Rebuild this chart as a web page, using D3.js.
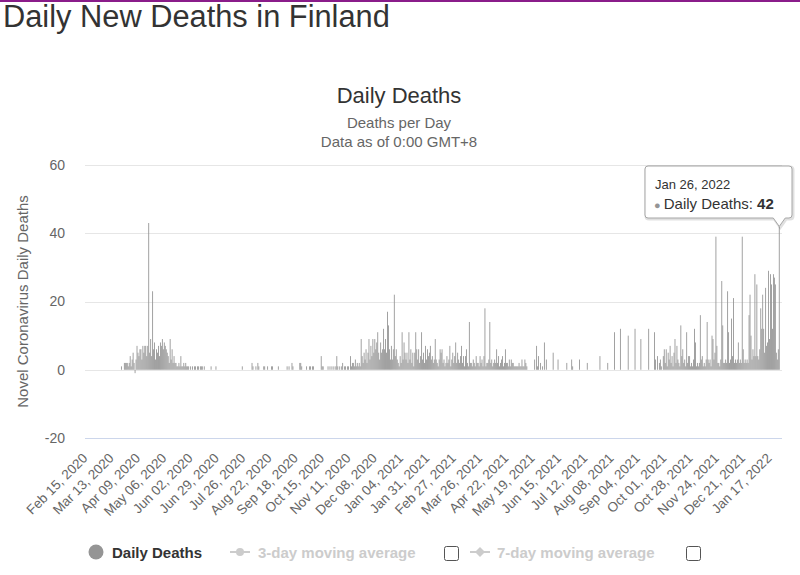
<!DOCTYPE html>
<html>
<head>
<meta charset="utf-8">
<script src="https://cdn.jsdelivr.net/npm/d3@7"></script>
<style>
  html, body { margin: 0; padding: 0; background: #fff; }
  svg { display: block; font-family: Arial, "Liberation Sans", Helvetica, sans-serif; }
</style>
</head>
<body>
<div id="chart"></div>
<script>
// Daily deaths, one value per day from Feb 15, 2020
const deaths2020 = [
  0,0,0,0,0,0,0,0,0,0,
  0,0,0,0,0,0,0,0,0,0,
  0,0,0,0,0,0,0,0,0,0,
  0,0,0,0,0,0,1,0,0,2,
  2,2,2,1,2,4,1,3,5,2,
  -1,3,7,5,4,6,6,3,7,5,
  7,7,4,7,43,5,9,4,23,6,
  8,3,6,5,7,4,8,7,9,6,
  8,7,6,5,4,2,9,3,6,2,
  4,2,2,1,1,2,1,4,1,1,
  2,1,2,1,1,1,0,1,0,1,
  0,1,1,0,1,1,0,1,1,1,
  0,1,0,0,0,0,0,0,1,0,
  0,0,0,1,0,0,0,0,0,0,
  0,0,0,0,0,0,0,0,0,0,
  0,0,0,0,0,0,0,0,0,0,
  1,0,0,0,0,0,0,0,0,0,
  2,1,0,0,1,0,2,1,0,0,
  0,0,1,1,0,0,1,0,0,0,
  1,1,0,0,0,0,0,1,0,0,
  0,0,0,0,0,0,1,0,1,0,
  0,2,1,0,0,0,0,0,0,2,
  2,1,0,0,0,0,1,0,0,1,
  1,0,1,1,0,0,0,0,0,0,
  0,4,1,1,0,0,0,0,1,0,
  1,0,1,0,1,0,1,4,1,0,
  1,0,1,2,0,1,1,0,1,1,
  0,4,1,2,2,1,3,1,2,1,
  2,1,9,4,2,5,3,6,2,5,
  9,3,7,4,9,5,9,6,8,11,
  5,3,8,5,6,12,6,9,5,17,
  13,6,3,7,3,6,22,4,6,3,
  2
];
const deaths2021 = [
  1,4,2,11,3,8,5,3,5,2,
  11,3,6,2,5,1,5,11,6,3,
  6,2,4,11,3,5,2,7,3,6,
  4,5,7,3,4,2,3,9,3,2,
  1,3,6,5,6,2,3,1,2,4,
  2,3,7,1,3,5,2,4,8,2,
  5,3,2,4,7,2,4,1,4,6,
  2,1,14,2,2,1,3,2,1,4,
  2,2,1,4,2,3,1,4,18,1,
  2,2,3,14,2,3,1,2,3,2,
  6,2,4,1,2,3,4,1,2,6,
  2,2,1,3,1,3,2,2,1,1,
  1,1,1,2,1,1,3,1,1,3,
  2,1,0,0,0,0,0,0,0,3,
  0,7,1,4,0,2,0,1,0,8,
  0,3,0,0,0,0,0,0,5,0,
  0,0,0,3,0,0,0,0,0,0,
  0,0,2,0,0,0,0,3,1,0,
  0,0,0,0,0,3,0,0,0,0,
  0,0,0,2,0,0,0,0,0,0,
  0,0,0,0,0,0,4,0,0,0,
  0,0,0,0,2,0,0,0,0,0,
  0,11,0,0,0,0,0,12,0,0,
  0,0,0,0,0,10,0,0,0,0,
  0,0,12,0,0,0,0,0,9,0,
  0,0,0,0,0,0,12,0,0,0,
  0,0,11,3,0,4,0,2,3,1,
  0,4,6,2,6,1,5,3,7,2,
  4,1,5,9,2,7,3,2,1,13,
  4,6,2,3,1,11,2,4,4,1,
  2,1,3,12,8,1,2,1,2,16,
  3,4,1,2,1,3,14,3,2,3,
  1,10,9,3,5,39,7,2,2,1,
  3,26,13,2,2,3,2,23,11,2,
  3,15,4,21,2,3,2,3,8,2,
  3,2,39,6,2,3,2,3,2,16,
  22,10,3,6,4
];
const deaths2022 = [
  28,4,25,4,3,6,18,12,22,12,
  5,24,7,8,29,9,28,25,12,28,
  27,25,5,3,6,42
];
const yTicks = [-20, 0, 20, 40, 60];
const tickEvery = 27;
const legendItems = ["Daily Deaths", "3-day moving average", "7-day moving average"];

const deaths = deaths2020.concat(deaths2021, deaths2022);
const dates = d3.timeDay.range(new Date(2020, 1, 15), new Date(2022, 0, 27));
const data = dates.map((d, i) => ({ date: d, value: deaths[i] }));

const width = 800, height = 575;
const plotLeft = 85, plotRight = 782, plotTop = 165, plotBottom = 438;
const fmt = d3.timeFormat("%b %d, %Y");
const barColor = "#959595";

const svg = d3.select("#chart").append("svg")
  .attr("width", width)
  .attr("height", height);

svg.append("rect").attr("width", width).attr("height", height).attr("fill", "#fff");
svg.append("rect").attr("x", 0).attr("y", 0).attr("width", width).attr("height", 2).attr("fill", "#8a1c8a");

// page title
svg.append("text")
  .attr("x", 3).attr("y", 27)
  .attr("font-size", 30.8).attr("fill", "#333")
  .text("Daily New Deaths in Finland");

// chart titles
svg.append("text").attr("x", 399).attr("y", 103).attr("text-anchor", "middle")
  .attr("font-size", 22).attr("fill", "#333").text("Daily Deaths");
svg.append("text").attr("x", 399).attr("y", 128).attr("text-anchor", "middle")
  .attr("font-size", 15).attr("fill", "#666").text("Deaths per Day");
svg.append("text").attr("x", 399).attr("y", 147).attr("text-anchor", "middle")
  .attr("font-size", 15).attr("fill", "#666").text("Data as of 0:00 GMT+8");

const x = d3.scaleBand()
  .domain(data.map(d => d.date))
  .range([85.8, 779.8])
  .padding(0.1);

const y = d3.scaleLinear()
  .domain([-20, 60])
  .range([plotBottom, plotTop]);

// grid lines
svg.append("g")
  .selectAll("line")
  .data(yTicks)
  .enter()
  .append("line")
  .attr("x1", plotLeft).attr("x2", plotRight)
  .attr("y1", d => Math.round(y(d)) + 0.5).attr("y2", d => Math.round(y(d)) + 0.5)
  .attr("stroke", d => d === -20 ? "#ccd6eb" : "#e6e6e6")
  .attr("stroke-width", 1);

// y labels
svg.append("g")
  .selectAll("text")
  .data(yTicks)
  .enter()
  .append("text")
  .attr("x", 65)
  .attr("y", d => y(d))
  .attr("dy", "0.35em")
  .attr("text-anchor", "end")
  .attr("font-size", 14)
  .attr("fill", "#666")
  .text(d => d);

svg.append("text")
  .attr("transform", `translate(28, ${(plotTop + plotBottom) / 2}) rotate(-90)`)
  .attr("text-anchor", "middle")
  .attr("font-size", 15)
  .attr("fill", "#666")
  .text("Novel Coronavirus Daily Deaths");

// bars
svg.append("g")
  .selectAll("rect")
  .data(data.filter(d => d.value !== 0))
  .enter()
  .append("rect")
  .attr("x", d => x(d.date))
  .attr("width", x.bandwidth())
  .attr("y", d => y(Math.max(0, d.value)))
  .attr("height", d => Math.abs(y(d.value) - y(0)))
  .attr("fill", barColor);

// x labels
svg.append("g")
  .selectAll("text")
  .data(data.filter((d, i) => i % tickEvery === 0))
  .enter()
  .append("text")
  .attr("transform", d => `translate(${x(d.date) + x.bandwidth() / 2 + 2}, 459) rotate(-45)`)
  .attr("text-anchor", "end")
  .attr("font-size", 13.5)
  .attr("fill", "#666")
  .text(d => fmt(d.date));

// legend
const legend = svg.append("g").attr("font-size", 15).attr("font-weight", "bold");
legend.append("circle").attr("cx", 96).attr("cy", 552).attr("r", 7.5).attr("fill", barColor);
legend.append("text").attr("x", 112).attr("y", 558).attr("fill", "#333").text(legendItems[0]);

legend.append("line").attr("x1", 230).attr("x2", 250).attr("y1", 552).attr("y2", 552)
  .attr("stroke", "#ccc").attr("stroke-width", 2);
legend.append("circle").attr("cx", 240).attr("cy", 552).attr("r", 4).attr("fill", "#ccc");
legend.append("text").attr("x", 258).attr("y", 558).attr("fill", "#ccc").text(legendItems[1]);
legend.append("rect").attr("x", 444.5).attr("y", 546.5).attr("width", 14).attr("height", 14)
  .attr("rx", 2).attr("fill", "#fff").attr("stroke", "#555");

legend.append("line").attr("x1", 470).attr("x2", 490).attr("y1", 552).attr("y2", 552)
  .attr("stroke", "#ccc").attr("stroke-width", 2);
legend.append("path").attr("d", "M480,547 L485,552 L480,557 L475,552 Z").attr("fill", "#ccc");
legend.append("text").attr("x", 497).attr("y", 558).attr("fill", "#ccc").text(legendItems[2]);
legend.append("rect").attr("x", 686.5).attr("y", 546.5).attr("width", 14).attr("height", 14)
  .attr("rx", 2).attr("fill", "#fff").attr("stroke", "#555");

// tooltip on the last point
const last = data[data.length - 1];
const tipX = x(last.date) + x.bandwidth() / 2;
const tip = svg.append("g");
const boxL = 645, boxR = 792, boxT = 166, boxB = 218;
const tipPath = `M${boxL + 3},${boxT} L${boxR - 3},${boxT} Q${boxR},${boxT} ${boxR},${boxT + 3} ` +
  `L${boxR},${boxB - 3} Q${boxR},${boxB} ${boxR - 3},${boxB} L${tipX + 6},${boxB} L${tipX},${y(last.value)} ` +
  `L${tipX - 6},${boxB} L${boxL + 3},${boxB} Q${boxL},${boxB} ${boxL},${boxB - 3} L${boxL},${boxT + 3} Q${boxL},${boxT} ${boxL + 3},${boxT} Z`;
tip.append("path").attr("d", tipPath).attr("transform", "translate(1,1)")
  .attr("fill", "none").attr("stroke", "rgba(0,0,0,0.12)").attr("stroke-width", 3);
tip.append("path").attr("d", tipPath)
  .attr("fill", "rgba(255,255,255,0.96)").attr("stroke", "#a6a6a6").attr("stroke-width", 1);
tip.append("text").attr("x", 655).attr("y", 189).attr("font-size", 13).attr("fill", "#333")
  .text(d3.timeFormat("%b %d, %Y")(last.date));
const line2 = tip.append("text").attr("x", 654).attr("y", 209).attr("font-size", 15).attr("fill", "#333");
line2.append("tspan").attr("fill", barColor).attr("font-size", 11).text("\u25CF ");
line2.append("tspan").text("Daily Deaths: ");
line2.append("tspan").attr("font-weight", "bold").text(last.value);
</script>
</body>
</html>
